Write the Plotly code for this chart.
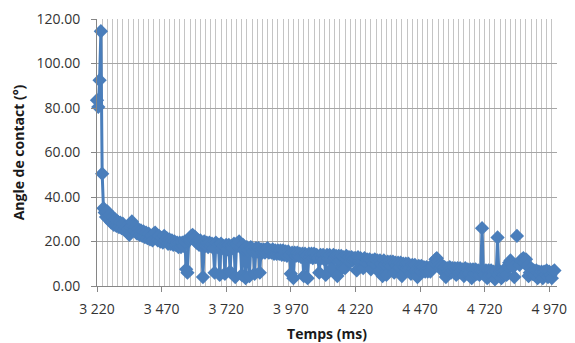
import plotly.graph_objects as go

# Sampling times (ms), one sample every 5 ms from 3220 to 4990
temps_ms = list(range(3220, 4995, 5))

# Contact angle (°), 20 samples per 100 ms row
angle_deg = [
    # 3220-3315
    83.5, 80.5, 92.5, 114.5, 50.5, 35.0, 33.0, 31.0, 33.5, 30.0, 32.0, 28.5, 31.0, 27.5, 30.0, 27.0, 29.0, 26.5, 28.5, 26.0,
    # 3320-3415
    28.0, 25.5, 26.5, 24.5, 25.5, 23.0, 26.5, 29.0, 27.0, 25.0, 26.5, 23.5, 25.5, 23.0, 25.0, 22.5, 24.5, 22.0, 24.0, 21.5,
    # 3420-3515
    23.5, 21.0, 22.5, 20.5, 23.5, 24.0, 22.0, 20.5, 22.5, 20.0, 21.5, 19.5, 22.5, 20.5, 21.5, 19.0, 21.0, 19.0, 20.5, 18.5,
    # 3520-3615
    20.0, 18.5, 19.5, 17.5, 19.5, 17.5, 19.5, 18.0, 20.0, 7.5, 6.0, 20.5, 21.0, 22.5, 23.0, 21.0, 22.0, 19.5, 20.5, 18.5,
    # 3620-3715
    20.5, 18.0, 4.0, 20.0, 18.0, 19.5, 17.5, 19.5, 18.0, 19.0, 17.0, 6.0, 19.5, 17.5, 18.5, 5.0, 19.0, 17.0, 18.0, 5.5,
    # 3720-3815
    18.5, 16.5, 18.5, 6.5, 18.0, 17.0, 19.0, 4.0, 19.0, 18.0, 20.0, 17.5, 5.0, 18.5, 16.5, 3.5, 17.5, 16.0, 4.5, 17.5,
    # 3820-3915
    17.0, 15.5, 5.5, 17.0, 15.5, 17.0, 6.0, 16.5, 15.0, 16.5, 15.0, 16.5, 17.0, 15.0, 16.0, 15.0, 16.5, 14.5, 16.0, 14.5,
    # 3920-4015
    16.0, 14.5, 16.0, 14.0, 16.0, 14.0, 15.5, 13.5, 15.5, 14.0, 5.5, 15.0, 3.5, 15.0, 13.5, 15.0, 13.5, 14.5, 13.0, 14.5,
    # 4020-4115
    4.5, 14.5, 13.5, 3.5, 14.5, 13.0, 14.5, 12.5, 14.5, 13.0, 14.0, 12.5, 6.0, 14.0, 12.5, 14.0, 12.0, 5.0, 14.0, 12.5,
    # 4120-4215
    14.0, 12.0, 8.0, 14.0, 12.5, 13.5, 4.5, 13.5, 11.5, 13.5, 8.0, 13.0, 8.0, 13.5, 11.5, 13.0, 11.0, 13.0, 11.5, 12.5,
    # 4220-4315
    12.5, 7.0, 13.0, 11.0, 12.5, 11.0, 8.0, 12.5, 10.5, 12.0, 10.0, 12.0, 7.5, 11.5, 10.0, 12.0, 9.5, 11.5, 6.5, 11.5,
    # 4320-4415
    10.0, 4.5, 11.5, 9.5, 5.0, 11.0, 9.5, 11.0, 9.0, 11.0, 6.0, 10.5, 9.0, 10.5, 8.5, 10.5, 4.5, 10.0, 8.5, 10.0,
    # 4420-4515
    8.0, 10.0, 8.0, 5.5, 9.5, 7.5, 9.5, 7.5, 4.0, 9.0, 7.0, 9.0, 7.0, 8.5, 6.5, 8.5, 6.5, 8.0, 6.5, 8.5,
    # 4520-4615
    9.0, 10.5, 12.0, 12.5, 11.0, 9.5, 8.0, 9.0, 6.5, 8.5, 4.0, 8.0, 6.5, 8.5, 6.0, 8.0, 6.5, 8.0, 5.0, 8.0,
    # 4620-4715
    6.0, 8.0, 6.5, 7.5, 4.5, 8.0, 6.0, 7.5, 5.5, 7.5, 3.5, 7.5, 5.5, 7.5, 5.5, 7.0, 5.0, 7.0, 26.0, 7.0,
    # 4720-4815
    5.0, 7.0, 3.5, 7.0, 5.0, 7.0, 4.5, 6.5, 3.0, 6.5, 21.8, 5.0, 6.5, 3.5, 6.5, 5.0, 7.0, 5.0, 9.0, 10.5,
    # 4820-4915
    11.5, 10.0, 8.5, 4.0, None, 22.5, None, 9.5, 11.5, 12.0, 12.5, 10.5, 12.0, 9.0, 4.5, 6.0, 8.0, 5.5, 7.0, 5.0,
    # 4920-4990
    7.0, 3.5, 6.5, 5.0, 6.5, 3.5, 6.5, 5.0, 7.0, 4.0, 6.5, 5.0, 3.5, 6.5, 7.0,
]

x_tick_values = [3220, 3470, 3720, 3970, 4220, 4470, 4720, 4970]
x_tick_labels = ["3 220", "3 470", "3 720", "3 970", "4 220", "4 470", "4 720", "4 970"]
y_tick_values = [0, 20, 40, 60, 80, 100, 120]
y_tick_labels = ["0.00", "20.00", "40.00", "60.00", "80.00", "100.00", "120.00"]

SERIES_COLOR = "#4a7ebb"
TICK_FONT = dict(family="Open Sans", size=14, color="#333333")
TITLE_FONT = dict(family="Open Sans", size=14, color="#1a1a1a")

fig = go.Figure()
fig.add_trace(go.Scatter(
    x=temps_ms,
    y=angle_deg,
    mode="lines+markers",
    line=dict(color=SERIES_COLOR, width=3),
    marker=dict(symbol="diamond", size=11, color=SERIES_COLOR, line=dict(width=0)),
    connectgaps=False,
    cliponaxis=False,
    showlegend=False,
))

fig.update_layout(
    width=575,
    height=343,
    margin=dict(l=97, r=18, t=19, b=57),
    paper_bgcolor="white",
    plot_bgcolor="white",
    xaxis=dict(
        range=[3220, 5000],
        automargin=False,
        tickmode="array",
        tickvals=x_tick_values,
        ticktext=x_tick_labels,
        showgrid=False,
        zeroline=False,
        showline=True,
        linecolor="#868686",
        linewidth=1,
        ticks="outside",
        ticklen=5,
        tickcolor="#868686",
        tickfont=TICK_FONT,
        ticklabelstandoff=5,
        minor=dict(dtick=20, tick0=3220, showgrid=True, gridcolor="#c4c4c4", gridwidth=1, ticks=""),
        title=dict(text="<b>Temps (ms)</b>", font=TITLE_FONT, standoff=12),
    ),
    yaxis=dict(
        range=[0, 120],
        automargin=False,
        tickmode="array",
        tickvals=y_tick_values,
        ticktext=y_tick_labels,
        showgrid=True,
        gridcolor="#a6a6a6",
        gridwidth=1,
        zeroline=False,
        showline=True,
        linecolor="#868686",
        linewidth=1,
        ticks="outside",
        ticklen=5,
        tickcolor="#868686",
        tickfont=TICK_FONT,
        ticklabelstandoff=8,
        title=dict(text="<b>Angle de contact (°)</b>", font=TITLE_FONT, standoff=8),
    ),
)

fig.write_html(
    "out.html",
    config={"displayModeBar": False},
    post_script="document.body.style.margin='0';document.body.style.overflow='hidden';",
)
